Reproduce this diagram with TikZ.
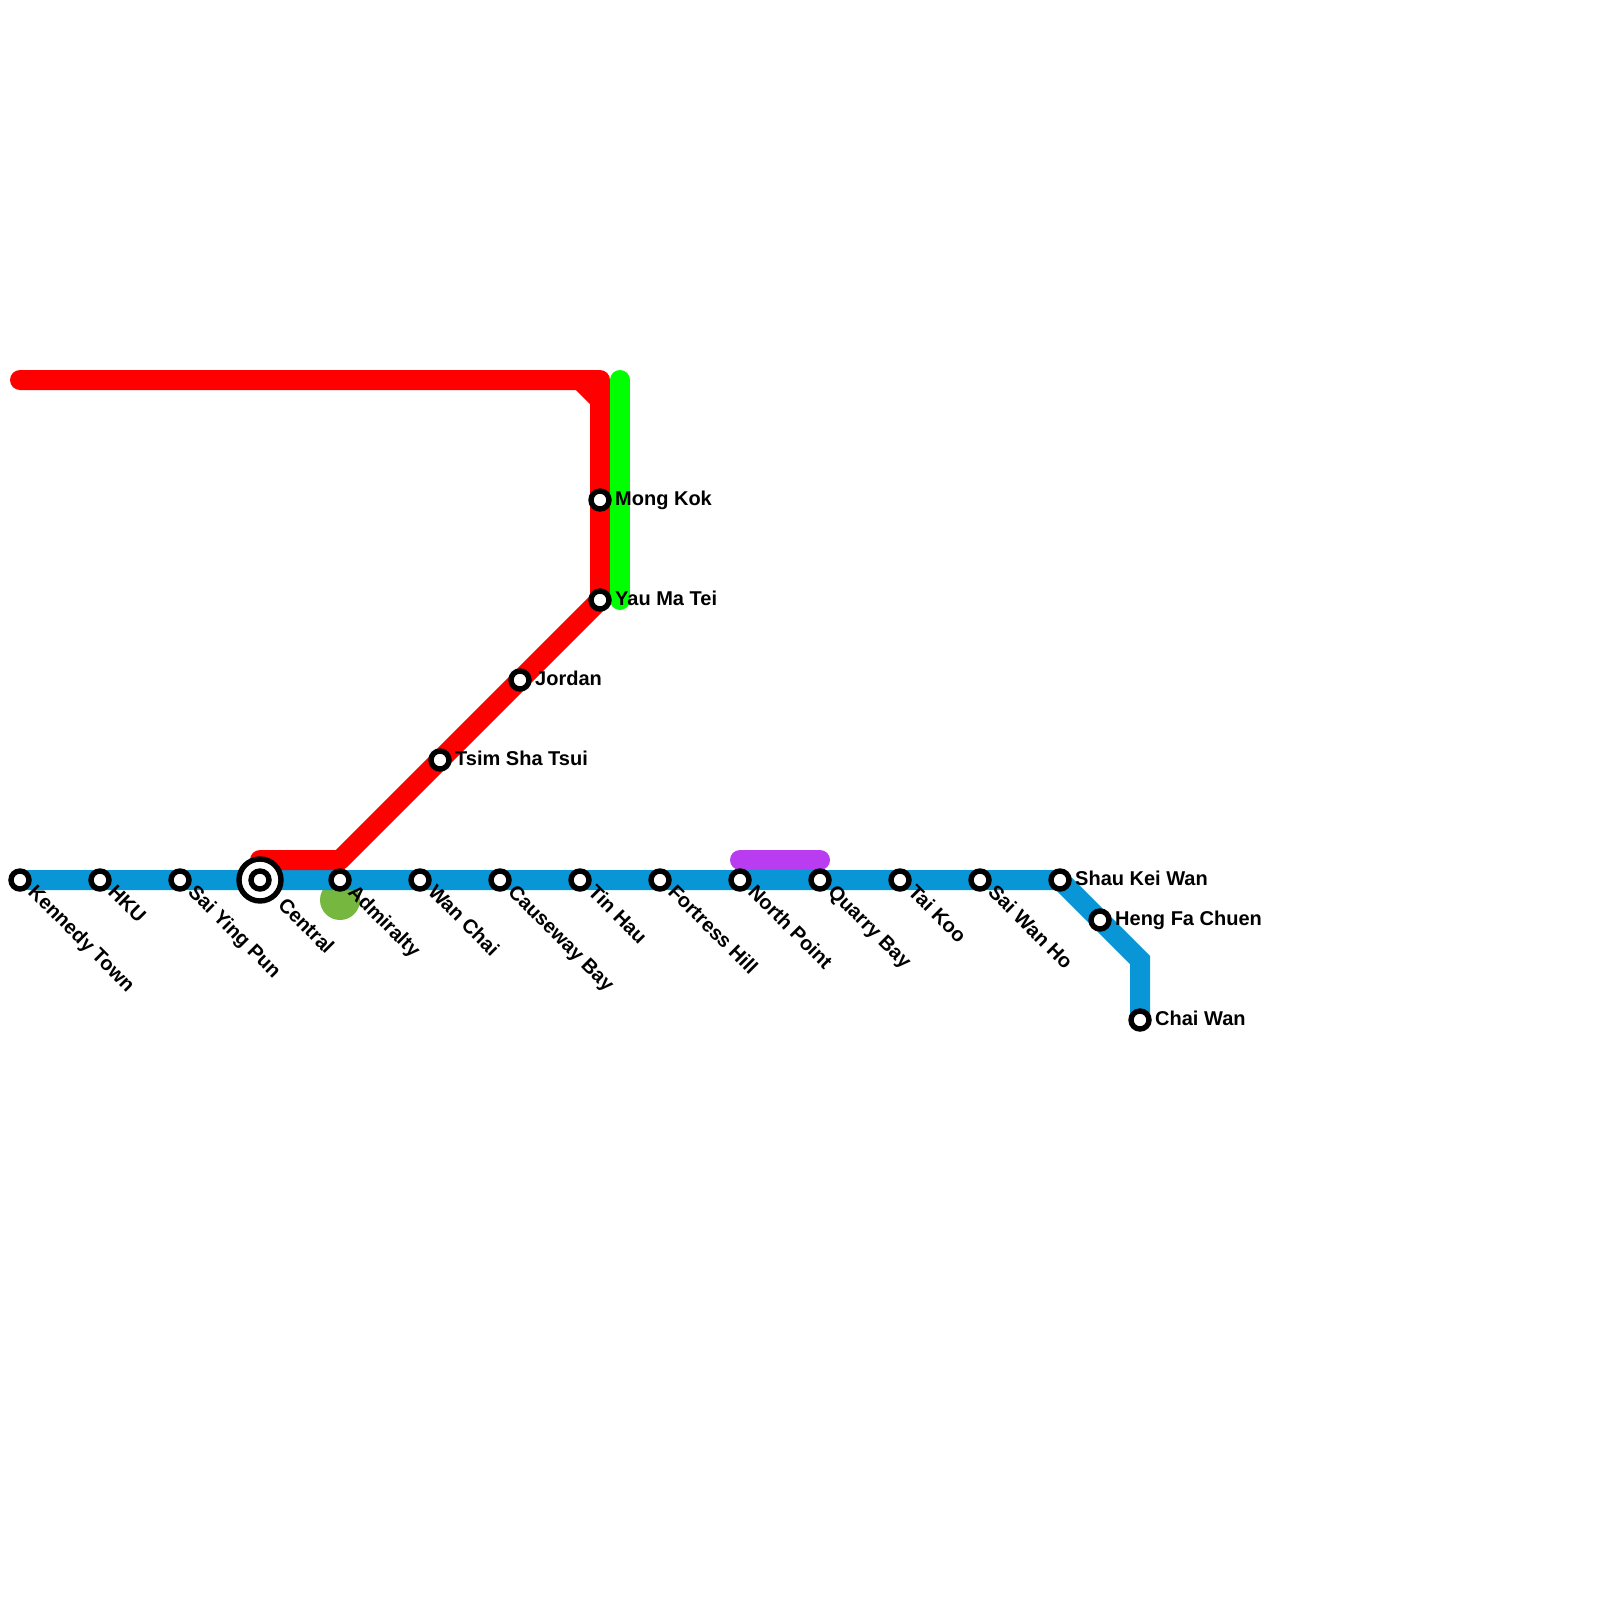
\documentclass[tikz,border=0pt]{standalone}
\usepackage{fontspec}
\setmainfont{Liberation Sans}
\usetikzlibrary{backgrounds}
\definecolor{bluel}{HTML}{0896D7}
\definecolor{redl}{HTML}{FF0000}
\definecolor{greenl}{HTML}{00FF00}
\definecolor{purplel}{HTML}{B93CF0}
\definecolor{disc}{HTML}{76B83F}
\tikzset{
  x=1pt,y=-1pt,
  rail/.style={line width=20pt,line cap=round,line join=round},
  stn/.style={circle,draw=black,fill=white,line width=5.4pt,minimum size=18pt,inner sep=0pt,outer sep=0pt},
  hub/.style={circle,draw=black,fill=white,line width=5.4pt,minimum size=42pt,inner sep=0pt,outer sep=0pt},
  lbl/.style={font=\fontsize{20}{22}\bfseries\selectfont,inner sep=0pt,anchor=base west},
  dlbl/.style={lbl,rotate=-45},
}
\begin{document}
\begin{tikzpicture}
\useasboundingbox (0,0) rectangle (1600,1600);
% central hub
\node[hub] (centralring) at (260,880) {};
% stations
\node[stn] (kt) at (20,880) {};
\node[stn] (hku) at (100,880) {};
\node[stn] (syp) at (180,880) {};
\node[stn] (cen) at (260,880) {};
\node[stn] (adm) at (340,880) {};
\node[stn] (wc) at (420,880) {};
\node[stn] (cb) at (500,880) {};
\node[stn] (th) at (580,880) {};
\node[stn] (fh) at (660,880) {};
\node[stn] (np) at (740,880) {};
\node[stn] (qb) at (820,880) {};
\node[stn] (tk) at (900,880) {};
\node[stn] (swh) at (980,880) {};
\node[stn] (skw) at (1060,880) {};
\node[stn] (hfc) at (1100,920) {};
\node[stn] (cw) at (1140,1020) {};
\node[stn] (tst) at (440,760) {};
\node[stn] (jor) at (520,680) {};
\node[stn] (ymt) at (600,600) {};
\node[stn] (mk) at (600,500) {};
% free ends and bends
\coordinate (bluebend) at (1140,960);
\coordinate (redstart) at (20,380);
\coordinate (redcorner) at (600,380);
\coordinate (chamfera) at (580,380);
\coordinate (chamferb) at (600,400);
\coordinate (redlow) at (340,860);
\coordinate (redend) at (260,860);
\coordinate (greentop) at (620,380);
\coordinate (greenbot) at (620,600);
\coordinate (purplea) at (740,860);
\coordinate (purpleb) at (820,860);
\begin{pgfonlayer}{background}
\fill[disc] (340,900) circle (20pt);
\draw[rail,bluel,line cap=butt,line join=miter] (kt.center) -- (skw.center) -- (hfc.center) -- (bluebend) -- (cw.center);
\draw[rail,purplel] (purplea) -- (purpleb);
\draw[rail,redl] (redstart) -- (redcorner) -- (ymt.center) -- (jor.center) -- (tst.center) -- (redlow) -- (redend);
\draw[rail,redl,line cap=butt] (chamfera) -- (chamferb);
\draw[rail,greenl] (greentop) -- (greenbot);
\end{pgfonlayer}
% labels
\node[dlbl] (l1) at (27,893) {Kennedy Town};
\node[dlbl] (l2) at (107,893) {HKU};
\node[dlbl] (l3) at (187,893) {Sai Ying Pun};
\node[dlbl] (l4) at (277,906) {Central};
\node[dlbl] (l5) at (347,893) {Admiralty};
\node[dlbl] (l6) at (427,893) {Wan Chai};
\node[dlbl] (l7) at (507,893) {Causeway Bay};
\node[dlbl] (l8) at (587,893) {Tin Hau};
\node[dlbl] (l9) at (667,893) {Fortress Hill};
\node[dlbl] (l10) at (747,893) {North Point};
\node[dlbl] (l11) at (827,893) {Quarry Bay};
\node[dlbl] (l12) at (907,893) {Tai Koo};
\node[dlbl] (l13) at (987,893) {Sai Wan Ho};
\node[lbl] (l14) at (1075,885) {Shau Kei Wan};
\node[lbl] (l15) at (1115,925) {Heng Fa Chuen};
\node[lbl] (l16) at (1155,1025) {Chai Wan};
\node[lbl] (l17) at (455,765) {Tsim Sha Tsui};
\node[lbl] (l18) at (535,685) {Jordan};
\node[lbl] (l19) at (615,605) {Yau Ma Tei};
\node[lbl] (l20) at (615,505) {Mong Kok};
\end{tikzpicture}
\end{document}
